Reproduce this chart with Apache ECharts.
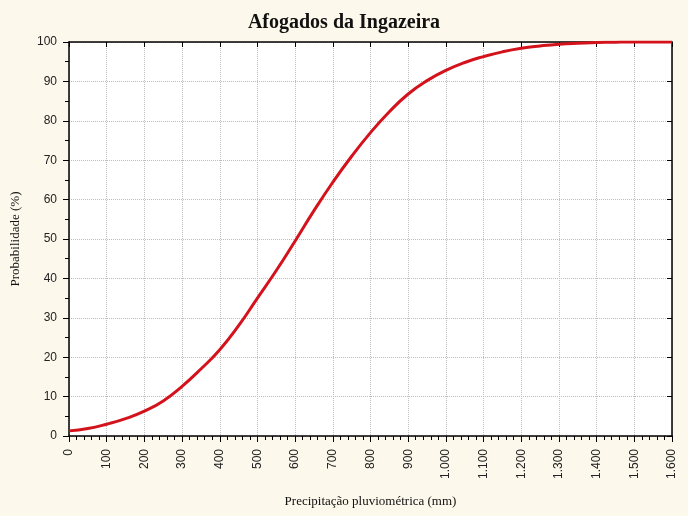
<!DOCTYPE html>
<html>
<head>
<meta charset="utf-8">
<script src="https://cdn.jsdelivr.net/npm/echarts@6/dist/echarts.min.js"></script>
<style>
html,body{margin:0;padding:0;background:#fcf8ec;}
#chart{width:688px;height:516px;}
</style>
</head>
<body>
<div id="chart"></div>
<script>
var titleText = 'Afogados da Ingazeira';
var xName = 'Precipitação pluviométrica (mm)';
var yName = 'Probabilidade (%)';
var precip = [0,50,100,150,200,250,300,350,400,450,500,550,600,650,700,750,800,850,900,950,1000,1050,1100,1150,1200,1250,1300,1350,1400,1450,1500,1550,1600];
var prob = [1.3,1.9,3.0,4.4,6.3,8.9,12.6,17.0,21.9,28.0,35.0,42.0,49.5,57.2,64.4,71.0,77.0,82.3,86.8,90.2,92.8,94.8,96.3,97.5,98.4,99.0,99.45,99.7,99.85,99.95,100,100,100];
var xTickLabels = ['0','100','200','300','400','500','600','700','800','900','1.000','1.100','1.200','1.300','1.400','1.500','1.600'];
var yTickLabels = ['0','10','20','30','40','50','60','70','80','90','100'];

var chart = echarts.init(document.getElementById('chart'));
var lblFont = {fontFamily:'Liberation Sans', fontSize:12, color:'#222'};
var baseX = {type:'value', min:0, max:1600, interval:100};
var baseY = {type:'value', min:0, max:100, interval:10};
function ext(a,b){var o={};for(var k in a)o[k]=a[k];for(var k2 in b)o[k2]=b[k2];return o;}
var noLbl = {show:false};
chart.setOption({
  backgroundColor:'#fcf8ec',
  animation:false,
  title:{text:titleText, left:'center', top:8,
    textStyle:{fontFamily:'Liberation Serif', fontWeight:'bold', fontSize:20, color:'#111'}},
  grid:{left:69, right:16, top:42, bottom:80, show:true, backgroundColor:'#ffffff', borderWidth:0,
    containLabel:false, outerBoundsMode:'none'},
  xAxis:[
    ext(baseX,{position:'bottom',
      name:xName, nameLocation:'middle', nameGap:59,
      nameTextStyle:{fontFamily:'Liberation Serif', fontSize:13, color:'#111'},
      axisLine:{show:true, onZero:false, lineStyle:{color:'#000', width:1.5}},
      axisTick:{show:true, inside:false, length:6, lineStyle:{color:'#000'}},
      minorTick:{show:true, splitNumber:5, length:4, lineStyle:{color:'#000'}},
      axisLabel:ext(lblFont,{rotate:90, margin:13, formatter:function(v){return xTickLabels[Math.round(v/100)];}}),
      splitLine:{show:true, lineStyle:{color:'#bdbdbd', type:'dotted'}}
    }),
    ext(baseX,{position:'top', axisLine:{show:true, onZero:false, lineStyle:{color:'#000', width:1.5}},
      axisTick:{show:true, inside:true, length:5, lineStyle:{color:'#000'}},
      axisLabel:noLbl, splitLine:{show:false}})
  ],
  yAxis:[
    ext(baseY,{position:'left',
      name:yName, nameLocation:'middle', nameGap:47, nameRotate:90,
      nameTextStyle:{fontFamily:'Liberation Serif', fontSize:13, color:'#111'},
      axisLine:{show:true, onZero:false, lineStyle:{color:'#000', width:1.5}},
      axisTick:{show:true, inside:false, length:6, lineStyle:{color:'#000'}},
      minorTick:{show:true, splitNumber:2, length:4, lineStyle:{color:'#000'}},
      axisLabel:ext(lblFont,{margin:12, formatter:function(v){return yTickLabels[Math.round(v/10)];}}),
      splitLine:{show:true, lineStyle:{color:'#bdbdbd', type:'dotted'}}
    }),
    ext(baseY,{position:'right', axisLine:{show:true, onZero:false, lineStyle:{color:'#000', width:1.5}},
      axisTick:{show:true, inside:true, length:5, lineStyle:{color:'#000'}},
      axisLabel:noLbl, splitLine:{show:false}})
  ],
  series:[{
    type:'line', xAxisIndex:0, yAxisIndex:0, smooth:true, showSymbol:false,
    data:precip.map(function(x,i){return [x, prob[i]];}),
    lineStyle:{color:'#d4121c', width:3},
    itemStyle:{color:'#d4121c'}
  }]
});
</script>
</body>
</html>
